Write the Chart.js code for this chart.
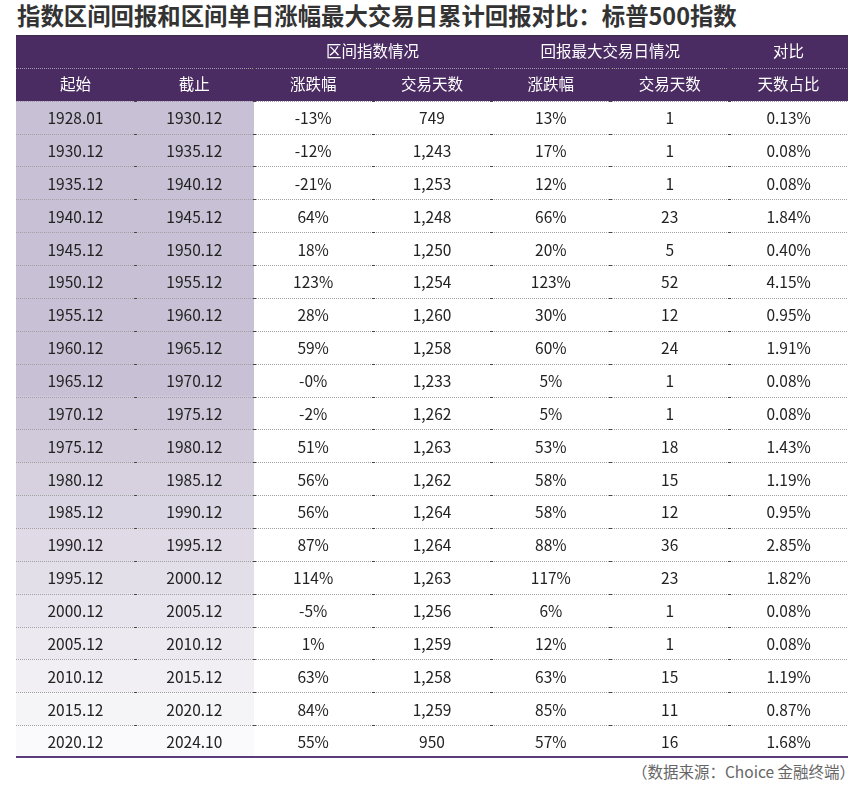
<!DOCTYPE html>
<html lang="zh">
<head>
<meta charset="utf-8">
<script src="https://cdn.jsdelivr.net/npm/chart.js@4"></script>
<style>
  body { margin: 0; width: 868px; height: 792px; background: #fff; position: relative; overflow: hidden; font-family: "Noto Sans CJK SC", sans-serif; }
  #titulo { position: absolute; left: 17px; top: 0; font-size: 23.4px; font-weight: bold; color: #333; line-height: 30px; white-space: nowrap; }
  #caja { position: absolute; left: 16px; top: 35px; width: 832px; height: 723px; }
  #fuente { position: absolute; right: 13px; top: 760px; font-size: 15.5px; color: #666; line-height: 22px; white-space: nowrap; }
</style>
</head>
<body>
<div id="titulo">指数区间回报和区间单日涨幅最大交易日累计回报对比：标普500指数</div>
<div id="caja"><canvas id="tabla"></canvas></div>
<div id="fuente">（数据来源：Choice 金融终端）</div>

<script>
//* datos de la tabla
const inicios = ["1928.01", "1930.12", "1935.12", "1940.12", "1945.12", "1950.12", "1955.12", "1960.12", "1965.12", "1970.12",
  "1975.12", "1980.12", "1985.12", "1990.12", "1995.12", "2000.12", "2005.12", "2010.12", "2015.12", "2020.12"];
const finales = ["1930.12", "1935.12", "1940.12", "1945.12", "1950.12", "1955.12", "1960.12", "1965.12", "1970.12", "1975.12",
  "1980.12", "1985.12", "1990.12", "1995.12", "2000.12", "2005.12", "2010.12", "2015.12", "2020.12", "2024.10"];
const cambioIntervalo = [-13, -12, -21, 64, 18, 123, 28, 59, -0, -2, 51, 56, 56, 87, 114, -5, 1, 63, 84, 55];
const diasIntervalo = [749, 1243, 1253, 1248, 1250, 1254, 1260, 1258, 1233, 1262, 1263, 1262, 1264, 1264, 1263, 1256, 1259, 1258, 1259, 950];
const cambioMaximo = [13, 17, 12, 66, 20, 123, 30, 60, 5, 5, 53, 58, 58, 88, 117, 6, 12, 63, 85, 57];
const diasMaximo = [1, 1, 1, 23, 5, 52, 12, 24, 1, 1, 18, 15, 12, 36, 23, 1, 1, 15, 11, 16];
const proporcion = [0.13, 0.08, 0.08, 1.84, 0.40, 4.15, 0.95, 1.91, 0.08, 0.08, 1.43, 1.19, 0.95, 2.85, 1.82, 0.08, 0.08, 1.19, 0.87, 1.68];

//* encabezados
const grupos = [
  { texto: "区间指数情况", desde: 2, hasta: 4 },
  { texto: "回报最大交易日情况", desde: 4, hasta: 6 },
  { texto: "对比", desde: 6, hasta: 7 },
];
const columnas = ["起始", "截止", "涨跌幅", "交易天数", "涨跌幅", "交易天数", "天数占比"];

const morado = "#4a2b62";
const filas = ["h1", "h2"].concat(inicios.map((v, i) => "r" + i));

//* formato de los números
function pct(v) {
  return (Object.is(v, -0) ? "-0" : String(v)) + "%";
}
function miles(v) {
  return v.toLocaleString("en-US");
}

//* color de fondo de las dos primeras columnas (se aclara hacia abajo)
function colorFila(i) {
  const t = i <= 8 ? 0 : (i - 8) / 11;
  const a = [200, 192, 212], b = [250, 249, 251];
  const c = a.map((v, k) => Math.round(v + (b[k] - v) * t));
  return `rgb(${c[0]},${c[1]},${c[2]})`;
}

function celdas(i) {
  return [inicios[i], finales[i], pct(cambioIntervalo[i]), miles(diasIntervalo[i]),
    pct(cambioMaximo[i]), String(diasMaximo[i]), proporcion[i].toFixed(2) + "%"];
}

//* plugin que dibuja líneas y textos usando las escalas
const tablaPlugin = {
  id: "tablaTexto",
  afterDatasetsDraw(chart) {
    const ctx = chart.ctx;
    const sx = chart.scales.x;
    const sy = chart.scales.y;
    const alto = sy.getPixelForValue(1) - sy.getPixelForValue(0);
    const izq = sx.getPixelForValue(0);
    const der = sx.getPixelForValue(7);
    ctx.save();

    // líneas horizontales punteadas
    ctx.lineWidth = 1;
    for (let i = 1; i < filas.length; i++) {
      const py = Math.round(sy.getPixelForValue(i) - alto / 2) + 0.5;
      ctx.setLineDash([1, 1]);
      ctx.strokeStyle = i <= 2 ? "#a59bb0" : "#a0a0a0";
      ctx.beginPath();
      ctx.moveTo(izq, py);
      ctx.lineTo(der, py);
      ctx.stroke();
      ctx.setLineDash([]);
      ctx.fillStyle = "#444";
      for (let c = 1; c < 7; c++) {
        const px = Math.round(sx.getPixelForValue(c));
        ctx.fillRect(px - 1, py - 0.5, 3, 1);
      }
    }
    // línea superior y línea morada inferior
    const arriba = sy.getPixelForValue(0) - alto / 2;
    const abajo = sy.getPixelForValue(filas.length - 1) + alto / 2;
    ctx.fillStyle = "#3b2a48";
    ctx.fillRect(izq, Math.round(arriba), der - izq, 1);
    ctx.fillStyle = "#5b3b7a";
    ctx.fillRect(izq, Math.round(abajo) - 2, der - izq, 2);

    ctx.textAlign = "center";
    ctx.textBaseline = "middle";

    // encabezados
    ctx.fillStyle = "#fff";
    ctx.font = "15.5px 'Noto Sans CJK SC'";
    for (const g of grupos) {
      const px = sx.getPixelForValue((g.desde + g.hasta) / 2);
      ctx.fillText(g.texto, px, sy.getPixelForValue(0));
    }
    columnas.forEach((t, c) => {
      ctx.fillText(t, sx.getPixelForValue(c + 0.5), sy.getPixelForValue(1));
    });

    // cuerpo de la tabla
    ctx.fillStyle = "#222";
    ctx.font = "15.5px 'Noto Sans CJK SC'";
    for (let i = 0; i < inicios.length; i++) {
      const py = sy.getPixelForValue(i + 2);
      celdas(i).forEach((t, c) => {
        ctx.fillText(t, sx.getPixelForValue(c + 0.5), py + 1);
      });
    }
    ctx.restore();
  },
};

//* configuración del gráfico
Chart.defaults.font.family = "'Noto Sans CJK SC', sans-serif";

const config = {
  type: "bar",
  data: {
    labels: filas,
    datasets: [
      {
        label: "encabezado",
        data: [{ y: "h1", x: [0, 7] }, { y: "h2", x: [0, 7] }],
        backgroundColor: morado,
        grouped: false,
        barPercentage: 1,
        categoryPercentage: 1,
      },
      {
        label: "sombra",
        data: inicios.map((v, i) => ({ y: "r" + i, x: [0, 2] })),
        backgroundColor: inicios.map((v, i) => colorFila(i)),
        grouped: false,
        barPercentage: 1,
        categoryPercentage: 1,
      },
    ],
  },
  options: {
    indexAxis: "y",
    responsive: true,
    maintainAspectRatio: false,
    animation: false,
    layout: { padding: 0 },
    plugins: { legend: { display: false }, tooltip: { enabled: false } },
    scales: {
      x: { type: "linear", min: 0, max: 7, display: false },
      y: { type: "category", display: false, offset: true },
    },
  },
  plugins: [tablaPlugin],
};

new Chart(document.getElementById("tabla"), config);
</script>
</body>
</html>
